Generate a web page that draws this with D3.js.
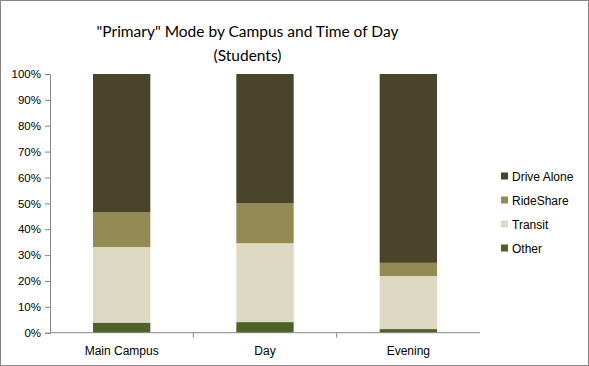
<!DOCTYPE html>
<html><head><meta charset="utf-8">
<script src="https://cdn.jsdelivr.net/npm/d3@7"></script>
<style>body{margin:0;background:#fff}svg{display:block}</style>
</head><body>
<svg id="c" width="589" height="366"></svg>
<script>
const categories = ["Main Campus", "Day", "Evening"];
const seriesNames = ["Other", "Transit", "RideShare", "Drive Alone"];
const other = [3.9, 4.1, 1.4];
const transit = [29.2, 30.5, 20.5];
const rideShare = [13.5, 15.5, 5.1];
const driveAlone = [53.4, 49.9, 73.0];
const yTicks = [0, 10, 20, 30, 40, 50, 60, 70, 80, 90, 100];
const colors = ["#4f6228", "#ddd9c3", "#948a54", "#4a452a"];

(function () {
const rows = categories.map((c, i) => ({cat: c, "Other": other[i], "Transit": transit[i], "RideShare": rideShare[i], "Drive Alone": driveAlone[i]}));
const stacked = d3.stack().keys(seriesNames)(rows);

const svg = d3.select("#c");
svg.append("rect").attr("x", 0.5).attr("y", 0.5).attr("width", 588).attr("height", 365)
  .attr("fill", "#fff").attr("stroke", "#868686");

const pLeft = 50, pRight = 480, pTop = 74, pBottom = 332.7;
const x = d3.scaleBand().domain(categories).range([pLeft, pRight]).paddingInner(0.6).paddingOuter(0.3);
const y = d3.scaleLinear().domain([0, 100]).range([pBottom, pTop]);

svg.append("g").selectAll("g").data(stacked).join("g")
  .attr("fill", (d, i) => colors[i])
  .selectAll("rect").data(d => d).join("rect")
  .attr("x", d => x(d.data.cat)).attr("width", x.bandwidth())
  .attr("y", d => y(d[1])).attr("height", d => y(d[0]) - y(d[1]));

const font = "'Liberation Sans', Arial, sans-serif";
const yAxis = svg.append("g").attr("transform", `translate(${pLeft},0)`)
  .call(d3.axisLeft(y).tickValues(yTicks).tickFormat(d => d + "%").tickSize(5).tickPadding(4));
yAxis.select(".domain").attr("stroke", "#868686");
yAxis.selectAll(".tick line").attr("stroke", "#868686");
yAxis.selectAll("text").attr("font-family", font).attr("font-size", 11.5).attr("fill", "#000");

const xAxisG = svg.append("g").attr("transform", `translate(0,${pBottom})`);
xAxisG.append("line").attr("x1", pLeft).attr("x2", pRight).attr("stroke", "#868686");
const step = x.step();
categories.forEach((c, i) => {
  if (i > 0) {
    const tx = x(c) - (step - x.bandwidth()) / 2;
    xAxisG.append("line").attr("x1", tx).attr("x2", tx).attr("y1", 0).attr("y2", 5).attr("stroke", "#868686");
  }
});
xAxisG.selectAll("text.cl").data(categories).join("text").attr("class", "cl")
  .attr("x", d => x(d) + x.bandwidth() / 2).attr("y", 22.5)
  .attr("text-anchor", "middle").attr("font-family", font).attr("font-size", 12).text(d => d);

const titleFont = "Lato, 'Open Sans', sans-serif";
svg.append("text").attr("x", 247.5).attr("y", 37).attr("text-anchor", "middle")
  .attr("font-family", titleFont).attr("font-size", 15.5).text('"Primary" Mode by Campus and Time of Day');
svg.append("text").attr("x", 247.5).attr("y", 61).attr("text-anchor", "middle")
  .attr("font-family", titleFont).attr("font-size", 15.5).text('(Students)');

const legendOrder = ["Drive Alone", "RideShare", "Transit", "Other"];
const lg = svg.append("g");
legendOrder.forEach((s, i) => {
  const cy = 176 + i * 24;
  lg.append("rect").attr("x", 501).attr("y", cy - 3.5).attr("width", 7).attr("height", 7)
    .attr("fill", colors[seriesNames.indexOf(s)]);
  lg.append("text").attr("x", 512).attr("y", cy + 4.5).attr("font-family", font).attr("font-size", 12).text(s);
});
})();
</script>
</body></html>
